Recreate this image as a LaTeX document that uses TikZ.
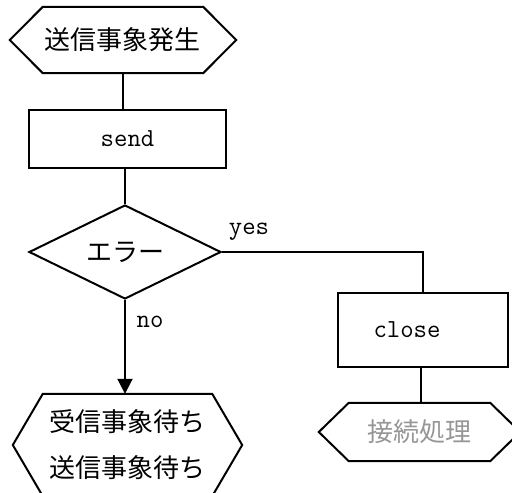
\documentclass[tikz,border=0pt]{standalone}
\usepackage{fontspec}
\newfontfamily\jp{Noto Sans CJK JP}
\usetikzlibrary{shapes.geometric,arrows.meta}
\definecolor{softgray}{RGB}{150,150,150}
\tikzset{
  line/.style={line width=2pt, draw=black},
  box/.style={line, rectangle, inner sep=0pt},
  hexnode/.style={rectangle, inner sep=0pt, draw=none},
  decision/.style={line, diamond, inner sep=0pt, aspect=2},
  jptext/.style={font=\jp\fontsize{26}{46}\selectfont},
  lattext/.style={font=\ttfamily\fontsize{26}{30}\selectfont},
}
\begin{document}
\begin{tikzpicture}[x=1pt,y=-1pt]
\useasboundingbox (0,0) rectangle (512,493);
\clip (0,0) rectangle (512,493);
% nodes
\node[hexnode, jptext, minimum width=226pt, minimum height=66pt] (start) at (123,40) {送信事象発生};
\node[box, lattext, minimum width=197pt, minimum height=58pt] (send) at (127.5,139) {send};
\node[decision, jptext, minimum width=192pt, minimum height=94pt] (err) at (125,252) {エラー};
\node[box, minimum width=170pt, minimum height=74pt] (close) at (423,330) {};
\node[lattext, inner sep=0pt] (closelbl) at (407,330) {close};
\node[hexnode, jptext, minimum width=201pt, minimum height=58pt, text=softgray] (conn) at (419.5,432) {接続処理};
\node[hexnode, jptext, align=center, minimum width=229pt, minimum height=102pt] (wait) at (127.5,445) {受信事象待ち\\送信事象待ち};
\node[lattext, inner sep=0pt] (yes) at (249,232) {yes};
\node[lattext, inner sep=0pt] (no) at (150,322) {no};
% hexagon outlines
\foreach \n/\i in {start/33, conn/30, wait/30} {
  \draw[line] ([xshift=\i pt]\n.north west) -- ([xshift=-\i pt]\n.north east) -- (\n.east)
    -- ([xshift=-\i pt]\n.south east) -- ([xshift=\i pt]\n.south west) -- (\n.west) -- cycle;
}
% connectors
\draw[line] (start.south) -- (start.south |- send.north);
\draw[line] (err.north |- send.south) -- (err.north);
\draw[line] (err.east) -| (close.north);
\draw[line] (close.south -| 421,0) -- (conn.north -| 421,0);
\draw[line, -{Triangle[width=15pt,length=15pt]}] (err.south) -- (err.south |- wait.north);
\end{tikzpicture}
\end{document}
